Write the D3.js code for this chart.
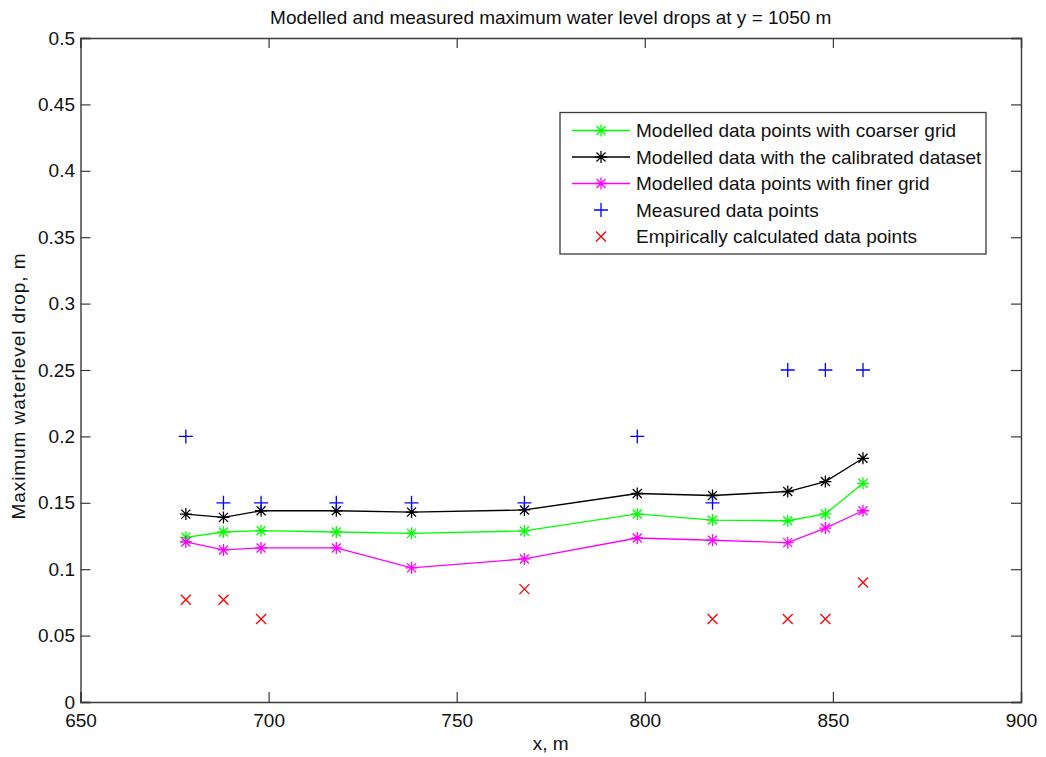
<!DOCTYPE html>
<html>
<head>
<meta charset="utf-8">
<script src="https://cdn.jsdelivr.net/npm/d3@7"></script>
<style>
  html, body { margin: 0; padding: 0; background: #fff; }
  svg { display: block; font-family: "Liberation Sans", Arial, sans-serif; }
</style>
</head>
<body>
<svg id="chart" width="1046" height="757"></svg>
<script>
// Cross-section positions along x (m)
const xPositions = [678, 688, 698, 718, 738, 768, 798, 818, 838, 848, 858];

// Modelled maximum water level drops (m)
const coarserGrid = [0.124, 0.128, 0.129, 0.128, 0.127, 0.1288, 0.1416, 0.137, 0.1365, 0.1416, 0.1647];
const calibrated  = [0.1415, 0.139, 0.144, 0.144, 0.143, 0.1446, 0.157, 0.1555, 0.1585, 0.166, 0.1835];
const finerGrid   = [0.1205, 0.1145, 0.116, 0.116, 0.101, 0.1077, 0.1235, 0.1218, 0.120, 0.131, 0.144];

// Measured drops (m)
const measured = [0.2, 0.15, 0.15, 0.15, 0.15, 0.15, 0.2, 0.15, 0.25, 0.25, 0.25];

// Empirically calculated drops
const empiricalX = [678, 688, 698, 768, 818, 838, 848, 858];
const empiricalY = [0.077, 0.077, 0.0625, 0.085, 0.0625, 0.0625, 0.0625, 0.09];

const xTicks = [650, 700, 750, 800, 850, 900];
const yTicks = [0, 0.05, 0.1, 0.15, 0.2, 0.25, 0.3, 0.35, 0.4, 0.45, 0.5];

const legendLabels = [
  "Modelled data points with coarser grid",
  "Modelled data with the calibrated dataset",
  "Modelled data points with finer grid",
  "Measured data points",
  "Empirically calculated data points"
];

const svg = d3.select("#chart");
const plotLeft = 80.5, plotRight = 1021, plotTop = 38, plotBottom = 702;

const x = d3.scaleLinear().domain([650, 900]).range([plotLeft, plotRight]);
const y = d3.scaleLinear().domain([0, 0.5]).range([plotBottom, plotTop]);

const axisColor = "#3a3a3a";
const fontSize = 19;

// Axes with inward ticks on all four sides
const gx = svg.append("g").attr("transform", `translate(0,${plotBottom})`)
  .call(d3.axisBottom(x).tickValues(xTicks).tickSize(-10).tickPadding(11.5).tickFormat(d3.format("d")));
const gxTop = svg.append("g").attr("transform", `translate(0,${plotTop})`)
  .call(d3.axisTop(x).tickValues(xTicks).tickSize(-10).tickFormat(""));
const gy = svg.append("g").attr("transform", `translate(${plotLeft},0)`)
  .call(d3.axisLeft(y).tickValues(yTicks).tickSize(-10).tickPadding(5.5).tickFormat(d => String(+d.toFixed(2))));
const gyRight = svg.append("g").attr("transform", `translate(${plotRight},0)`)
  .call(d3.axisRight(y).tickValues(yTicks).tickSize(-10).tickFormat(""));

[gx, gxTop, gy, gyRight].forEach(g => {
  g.select(".domain").attr("stroke", axisColor).attr("stroke-width", 1.4);
  g.selectAll(".tick line").attr("stroke", axisColor).attr("stroke-width", 1.2);
  g.selectAll(".tick text").attr("fill", "#111").attr("font-size", fontSize)
    .attr("font-family", "Liberation Sans, Arial, sans-serif");
});

// Title and axis labels
svg.append("text").attr("x", (plotLeft + plotRight) / 2).attr("y", 24).attr("text-anchor", "middle")
  .attr("font-size", fontSize).attr("fill", "#111")
  .text("Modelled and measured maximum water level drops at y = 1050 m");
svg.append("text").attr("x", (plotLeft + plotRight) / 2).attr("y", 750).attr("text-anchor", "middle")
  .attr("font-size", fontSize).attr("fill", "#111").text("x, m");
svg.append("text").attr("transform", "translate(25,386.5) rotate(-90)").attr("text-anchor", "middle")
  .attr("font-size", fontSize).attr("fill", "#111")
  .attr("textLength", 266).attr("lengthAdjust", "spacing")
  .text("Maximum waterlevel drop, m");

// Marker drawing helpers
function star(g, cx, cy, color, r = 6) {
  const p = d3.path();
  p.moveTo(cx - r, cy); p.lineTo(cx + r, cy);
  p.moveTo(cx, cy - r); p.lineTo(cx, cy + r);
  const d = r * 0.75;
  p.moveTo(cx - d, cy - d); p.lineTo(cx + d, cy + d);
  p.moveTo(cx - d, cy + d); p.lineTo(cx + d, cy - d);
  g.append("path").attr("d", p.toString()).attr("stroke", color).attr("stroke-width", 1.3).attr("fill", "none");
}
function plus(g, cx, cy, color, r = 7) {
  const p = d3.path();
  p.moveTo(cx - r, cy); p.lineTo(cx + r, cy);
  p.moveTo(cx, cy - r); p.lineTo(cx, cy + r);
  g.append("path").attr("d", p.toString()).attr("stroke", color).attr("stroke-width", 1.3).attr("fill", "none");
}
function cross(g, cx, cy, color, r = 5) {
  const p = d3.path();
  p.moveTo(cx - r, cy - r); p.lineTo(cx + r, cy + r);
  p.moveTo(cx - r, cy + r); p.lineTo(cx + r, cy - r);
  g.append("path").attr("d", p.toString()).attr("stroke", color).attr("stroke-width", 1.3).attr("fill", "none");
}

const lineSeries = [
  { values: coarserGrid, color: "#00ff00" },
  { values: calibrated, color: "#000000" },
  { values: finerGrid, color: "#ff00ff" }
];

const plot = svg.append("g");
const line = d3.line().x(d => x(d[0])).y(d => y(d[1]));

lineSeries.forEach(s => {
  const pts = xPositions.map((xv, i) => [xv, s.values[i]]);
  plot.append("path").datum(pts).attr("d", line)
    .attr("fill", "none").attr("stroke", s.color).attr("stroke-width", 1.3);
  pts.forEach(p => star(plot, x(p[0]), y(p[1]), s.color));
});

xPositions.forEach((xv, i) => plus(plot, x(xv), y(measured[i]), "#0000ff"));
empiricalX.forEach((xv, i) => cross(plot, x(xv), y(empiricalY[i]), "#ff0000"));

// Legend
const lg = svg.append("g");
lg.append("rect").attr("x", 560).attr("y", 112.5).attr("width", 426).attr("height", 141.5)
  .attr("fill", "#fff").attr("stroke", axisColor).attr("stroke-width", 1.3);
const rowY = [130.5, 157, 183.5, 210, 236.5];
legendLabels.forEach((label, i) => {
  const ry = rowY[i];
  if (i < 3) {
    const c = lineSeries[i].color;
    lg.append("line").attr("x1", 572).attr("x2", 630).attr("y1", ry).attr("y2", ry)
      .attr("stroke", c).attr("stroke-width", 1.3);
    star(lg, 601, ry, c);
  } else if (i === 3) {
    plus(lg, 601, ry, "#0000ff");
  } else {
    cross(lg, 601, ry, "#ff0000");
  }
  lg.append("text").attr("x", 636).attr("y", ry).attr("dy", "0.36em")
    .attr("font-size", fontSize).attr("fill", "#111").text(label);
});
</script>
</body>
</html>
